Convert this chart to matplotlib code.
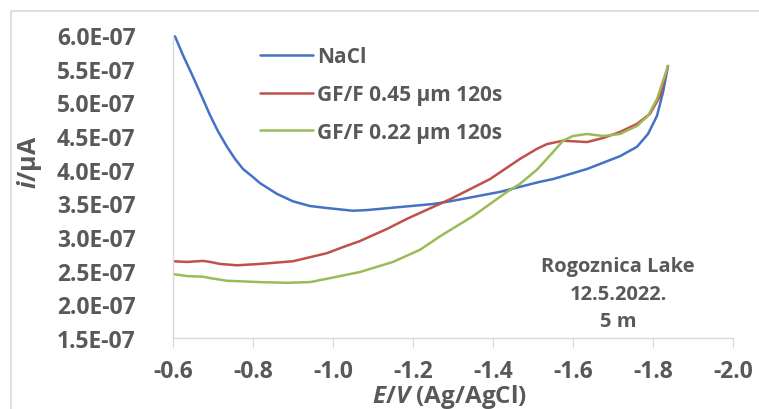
import matplotlib
matplotlib.use("Agg")
import matplotlib.pyplot as plt
from matplotlib.patches import Rectangle

plt.rcParams['font.family'] = ['Open Sans', 'DejaVu Sans']
plt.rcParams['mathtext.fontset'] = 'custom'
plt.rcParams['mathtext.it'] = 'Open Sans:italic:bold'
plt.rcParams['mathtext.rm'] = 'Open Sans:bold'

# NaCl
x_nacl = [-0.605, -0.625, -0.65, -0.6725, -0.6925, -0.7125, -0.735, -0.755, -0.775, -0.80,
          -0.8175, -0.86, -0.90, -0.9425, -0.985, -1.05, -1.085,
          -1.1675, -1.25, -1.2925, -1.4175, -1.5175, -1.55, -1.635, -1.7175, -1.76,
          -1.7875, -1.81, -1.825, -1.8375]
y_nacl = [5.98, 5.70, 5.38, 5.08, 4.81, 4.57, 4.34, 4.16, 4.01, 3.89,
          3.80, 3.64, 3.53, 3.46, 3.43, 3.39, 3.40,
          3.445, 3.49, 3.53, 3.67, 3.82, 3.86, 4.01, 4.20, 4.34,
          4.53, 4.80, 5.15, 5.54]

# GF/F 0.45 um
x_045 = [-0.60, -0.635, -0.675, -0.6925, -0.7175, -0.76, -0.8175, -0.90, -0.9425, -0.985,
         -1.025, -1.0675, -1.135, -1.185, -1.2925, -1.3925, -1.4675, -1.51, -1.535,
         -1.575, -1.635, -1.675, -1.7175, -1.76, -1.7925, -1.8175, -1.8375]
y_045 = [2.64, 2.63, 2.645, 2.63, 2.60, 2.58, 2.60, 2.64, 2.70, 2.76,
         2.85, 2.94, 3.12, 3.27, 3.56, 3.86, 4.16, 4.31, 4.38,
         4.43, 4.41, 4.47, 4.56, 4.68, 4.83, 5.09, 5.54]

# GF/F 0.22 um
x_022 = [-0.60, -0.635, -0.675, -0.6925, -0.735, -0.8175, -0.885, -0.9425, -0.985, -1.0675,
         -1.15, -1.2175, -1.2675, -1.35, -1.435, -1.4675, -1.51, -1.55, -1.575, -1.60,
         -1.635, -1.675, -1.7175, -1.76, -1.7875, -1.81, -1.8375]
y_022 = [2.45, 2.42, 2.41, 2.39, 2.35, 2.33, 2.32, 2.33, 2.38, 2.48,
         2.63, 2.81, 3.01, 3.31, 3.67, 3.79, 4.00, 4.26, 4.43, 4.50,
         4.53, 4.50, 4.53, 4.65, 4.80, 5.05, 5.54]

labels = ["NaCl", "GF/F 0.45 \u00b5m 120s", "GF/F 0.22 \u00b5m 120s"]
colors = ["#4472C4", "#C0504D", "#9BBB59"]

y_ticks = [1.5, 2.0, 2.5, 3.0, 3.5, 4.0, 4.5, 5.0, 5.5, 6.0]
x_ticks = [-0.6, -0.8, -1.0, -1.2, -1.4, -1.6, -1.8, -2.0]

txt = "#595959"
fig = plt.figure(figsize=(7.59, 4.10), dpi=100)
ax = fig.add_axes([173/759, 1-339/410, (733-173)/759, (339-36)/410])

series = [(x_nacl, y_nacl), (x_045, y_045), (x_022, y_022)]
for (xs, ys), lab, c in zip(series, labels, colors):
    ax.plot(xs, [v * 1e-7 for v in ys], color=c, lw=1.8, label=lab,
            solid_capstyle='round', solid_joinstyle='round')

ax.set_xlim(-0.6, -2.0)
ax.set_ylim(1.5e-7, 6.0e-7)
ax.set_xticks(x_ticks)
ax.set_xticklabels([f"{v:.1f}" for v in x_ticks])
ax.set_yticks([v * 1e-7 for v in y_ticks])
ax.set_yticklabels([f"{v:.1f}E-07" for v in y_ticks])
for s in ['top', 'right']:
    ax.spines[s].set_visible(False)
for s in ['left', 'bottom']:
    ax.spines[s].set_color('#D9D9D9')
    ax.spines[s].set_linewidth(1.0)
ax.tick_params(axis='y', length=0, pad=27, labelsize=16.5, labelcolor=txt)
ax.tick_params(axis='x', length=7, direction='out', color='#D9D9D9', pad=8,
               labelsize=16.5, labelcolor=txt)
for t in ax.get_xticklabels() + ax.get_yticklabels():
    t.set_fontweight('bold')

fig.text(449/759, 1-397/410, r"$E/V$ (Ag/AgCl)", ha='center', va='center',
         fontsize=17.5, fontweight='bold', color=txt)
fig.text(30/759, 1-162/410, r"$i$/µA", ha='center', va='center', rotation=90,
         fontsize=18, fontweight='bold', color=txt)

leg = ax.legend(loc='upper left', bbox_to_anchor=(250/759, 1-37/410),
                bbox_transform=fig.transFigure, frameon=False, borderpad=0,
                handlelength=2.5, handletextpad=0.2, labelspacing=0.8,
                prop={'size': 15, 'weight': 'bold'})
for t in leg.get_texts():
    t.set_color(txt)

for yy, s in zip([267, 295, 322], ["Rogoznica Lake", "12.5.2022.", "5 m"]):
    fig.text(618/759, 1-yy/410, s, ha='center', va='center', fontsize=14.5,
             fontweight='bold', color=txt)

fig.patches.append(Rectangle((11/759, -0.1), 2, 1 - 12/410 + 0.1, transform=fig.transFigure,
                             fill=False, edgecolor='#D9D9D9', lw=1.2))

fig.savefig("out.png", dpi=100)
